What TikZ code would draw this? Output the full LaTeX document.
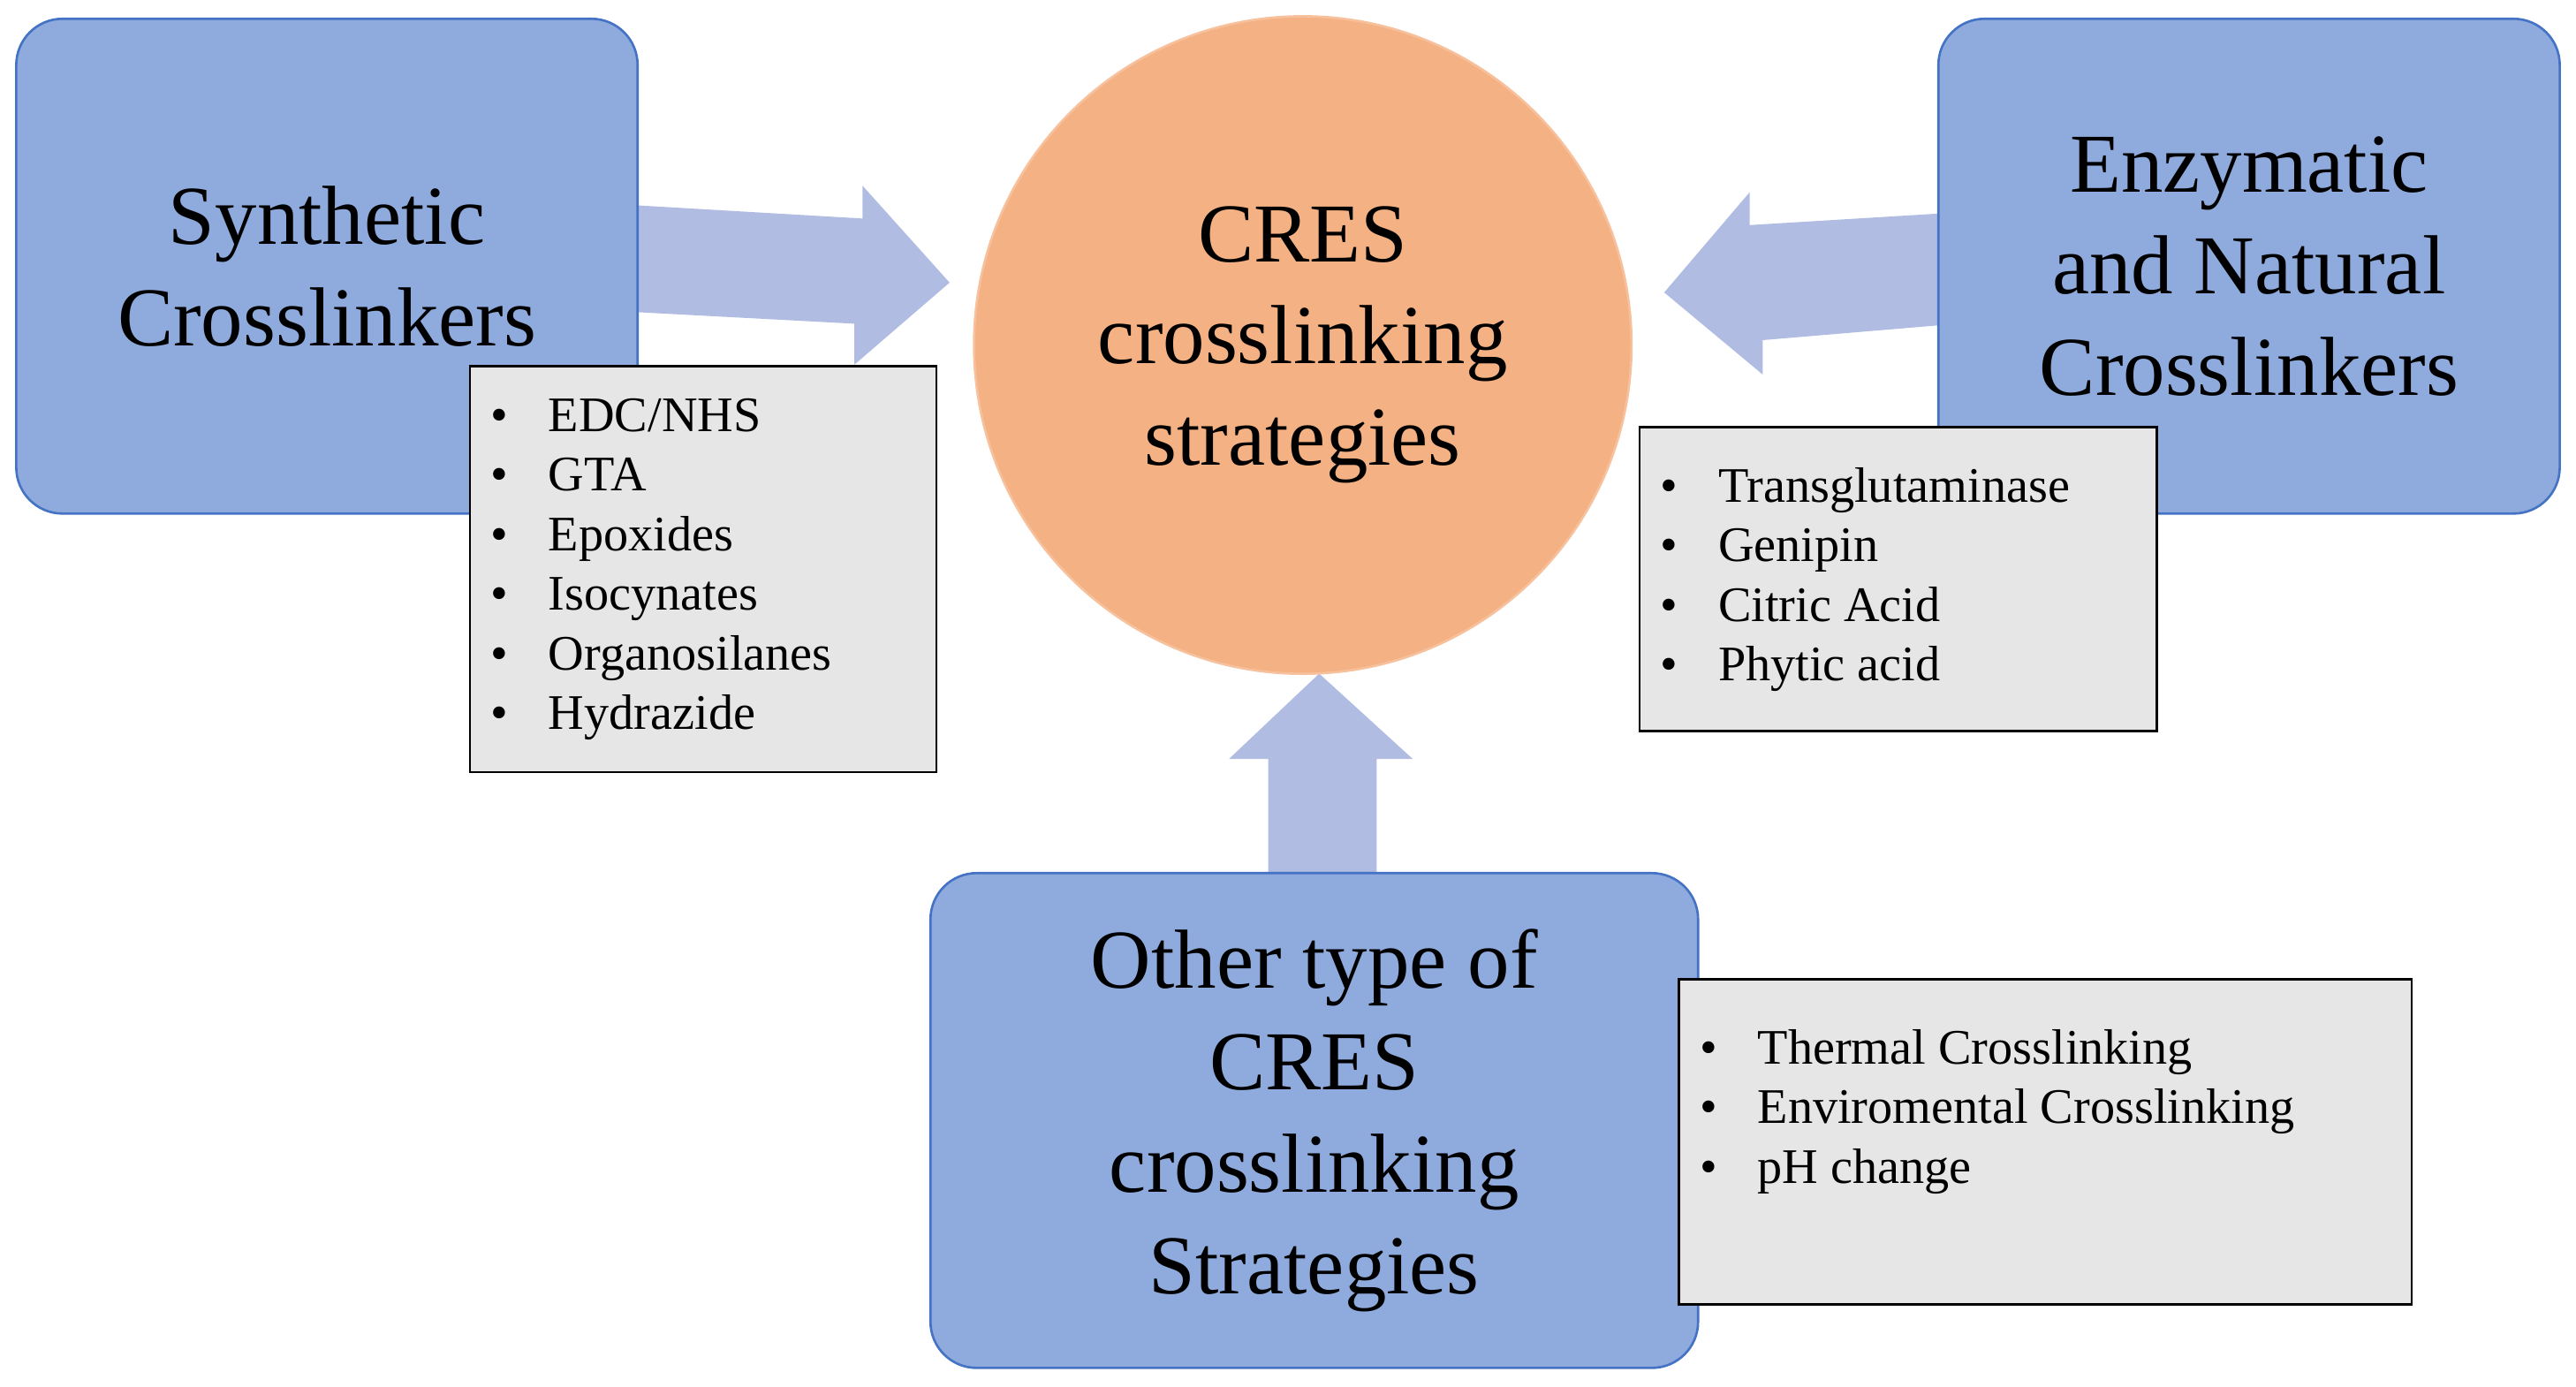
\documentclass[tikz,border=0pt]{standalone}
\usepackage{fontspec}
\setmainfont{Liberation Serif}
\usetikzlibrary{positioning}
\definecolor{boxblue}{RGB}{143,170,220}
\definecolor{boxedge}{RGB}{68,114,196}
\definecolor{arrowblue}{RGB}{176,188,226}
\definecolor{circorange}{RGB}{244,177,131}
\definecolor{listgray}{RGB}{231,230,230}
\tikzset{
  group/.style={draw=boxedge, fill=boxblue, rounded corners=8pt, align=center,
    font=\fontsize{14.5}{17.6}\selectfont, inner sep=0pt},
  items/.style={align=left, anchor=north west,
    font=\fontsize{8.6}{10.3}\selectfont, inner sep=0pt},
  listbox/.style={draw=black, fill=listgray},
  blockarrow/.style={fill=arrowblue},
}
\newcommand{\itm}{\textbullet\hspace{7pt}}
\begin{document}
\begin{tikzpicture}[x=0.01cm,y=-0.01cm]
\useasboundingbox (0,0) rectangle (1568,844);
% Block arrows
\fill[blockarrow] (388,125) -- (525,133) -- (525,113) -- (578,172) -- (520,222)
  -- (520,197) -- (388,190) -- cycle;
\fill[blockarrow] (1180,130) -- (1065,137) -- (1065,117) -- (1013,178) -- (1073,228)
  -- (1073,207) -- (1180,198) -- cycle;
\fill[blockarrow] (772,531) -- (772,462) -- (748,462) -- (803,410) -- (860,462)
  -- (838,462) -- (838,531) -- cycle;
% Centre
\node[circle, draw=circorange!80!white, fill=circorange, minimum size=4cm,
  align=center, font=\fontsize{14.5}{17.6}\selectfont] (centre) at (793,210)
  {CRES\\crosslinking\\strategies};
% Groups
\node[group, minimum width=3.78cm, minimum height=3.01cm] (synth) at (199,162)
  {Synthetic\\Crosslinkers};
\node[group, minimum width=3.78cm, minimum height=3.01cm] (enzym) at (1369,162)
  {Enzymatic\\and Natural\\Crosslinkers};
\node[group, minimum width=4.67cm, minimum height=3.01cm] (other) at (800,682)
  {Other type of\\CRES\\crosslinking\\Strategies};
% Lists
\draw[listbox] (286,223) rectangle (570,470);
\node[items] (synthlist) at (298,242)
  {\itm EDC/NHS\\\itm GTA\\\itm Epoxides\\\itm Isocynates\\\itm Organosilanes\\\itm Hydrazide};
\draw[listbox] (998,260) rectangle (1313,445);
\node[items] (enzymlist) at (1010,284)
  {\itm Transglutaminase\\\itm Genipin\\\itm Citric Acid\\\itm Phytic acid};
\draw[listbox] (1022,596) rectangle (1468,794);
\node[items] (otherlist) at (1034,626)
  {\itm Thermal Crosslinking\\\itm Enviromental Crosslinking\\\itm pH change};
\end{tikzpicture}
\end{document}
